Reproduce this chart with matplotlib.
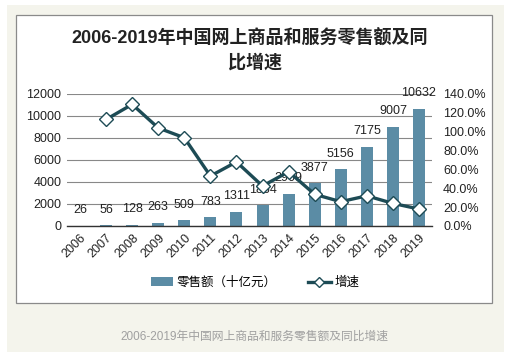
import matplotlib
matplotlib.use("Agg")
import matplotlib.pyplot as plt
from matplotlib.patches import Rectangle
from matplotlib.lines import Line2D

plt.rcParams['font.family'] = ['Liberation Sans', 'Noto Sans CJK SC', 'DejaVu Sans']

# Datos del gráfico
years = ['2006', '2007', '2008', '2009', '2010', '2011', '2012',
         '2013', '2014', '2015', '2016', '2017', '2018', '2019']
sales = [26, 56, 128, 263, 509, 783, 1311, 1864, 2909, 3877, 5156, 7175, 9007, 10632]
growth = [None, 113.0, 129.0, 104.0, 93.6, 53.0, 68.0, 42.4, 57.6, 33.6, 25.8, 32.0, 24.0, 18.0]
left_ticks = [0, 2000, 4000, 6000, 8000, 10000, 12000]
right_ticks = [0, 20, 40, 60, 80, 100, 120, 140]

title = '2006-2019年中国网上商品和服务零售额及同比增速'
bar_name = '零售额（十亿元）'
line_name = '增速'

bar_color = '#5b8ca5'
line_color = '#1d4b55'

fig = plt.figure(figsize=(5.12, 3.6), dpi=100)
W, H = 512, 360

# Fondo beige y caja blanca (zorder negativo para quedar detrás de los ejes)
fig.patches.append(Rectangle((7 / W, 1 - 352 / H), 497 / W, 347 / H,
                             transform=fig.transFigure, facecolor='#f4f4ec',
                             edgecolor='none', zorder=-2))
fig.patches.append(Rectangle((16 / W, 1 - 303 / H), 476 / W, 288 / H,
                             transform=fig.transFigure, facecolor='white',
                             edgecolor='#8a8a8a', linewidth=0.9, zorder=-1))

ax = fig.add_axes([67 / W, 1 - 226 / H, 365 / W, 132 / H])
ax.set_facecolor('none')
x = list(range(len(years)))
ax.bar(x, sales, width=0.46, color=bar_color, zorder=2)
ax.set_xlim(-0.5, len(years) - 0.5)
ax.set_ylim(0, 12000)
ax.set_yticks(left_ticks)
ax.set_yticklabels([str(t) for t in left_ticks], fontsize=9, color='#222222')
ax.set_xticks(x)
ax.set_xticklabels(years, rotation=45, ha='right', rotation_mode='anchor',
                   fontsize=9, color='#222222')
ax.tick_params(length=0, pad=4)
for s in ['top', 'right', 'left']:
    ax.spines[s].set_visible(False)
ax.spines['bottom'].set_color('#333333')
ax.spines['bottom'].set_linewidth(1.0)
ax.grid(axis='y', color='#888888', linewidth=0.8, zorder=0)
ax.set_axisbelow(True)

for xi, v in zip(x, sales):
    ax.annotate(str(v), (xi, v), xytext=(0, 7), textcoords='offset points',
                ha='center', va='bottom', fontsize=9, color='#222222', zorder=4)

ax2 = ax.twinx()
gx = [xi for xi, g in zip(x, growth) if g is not None]
gy = [g for g in growth if g is not None]
ax2.plot(gx, gy, color=line_color, linewidth=2.4, marker='D', markersize=7,
         markerfacecolor='white', markeredgecolor=line_color,
         markeredgewidth=1.0, zorder=3)
ax2.set_ylim(0, 140)
ax2.set_yticks(right_ticks)
ax2.set_yticklabels([f'{t:.1f}%' for t in right_ticks], fontsize=9, color='#222222')
ax2.tick_params(length=0, pad=8)
for s in ['top', 'right', 'left', 'bottom']:
    ax2.spines[s].set_visible(False)

fig.text(250 / W, 1 - 39 / H, title[:-3], ha='center', va='center',
         fontsize=13, fontweight='bold', color='#222222')
fig.text(255 / W, 1 - 63 / H, title[-3:], ha='center', va='center',
         fontsize=13, fontweight='bold', color='#222222')

handles = [Rectangle((0, 0), 1, 1, facecolor=bar_color),
           Line2D([0], [0], color=line_color, linewidth=2.4, marker='D',
                  markersize=5, markerfacecolor='white',
                  markeredgecolor=line_color)]
fig.legend(handles, [bar_name, line_name], loc='center',
           bbox_to_anchor=(255 / W, 1 - 283 / H), ncol=2, frameon=False,
           fontsize=9, handlelength=1.8, handletextpad=0.3, columnspacing=2.5)

fig.text(254 / W, 1 - 337 / H, title, ha='center', va='center',
         fontsize=8.5, color='#a0a0a0')

fig.savefig('out.png', dpi=100)
